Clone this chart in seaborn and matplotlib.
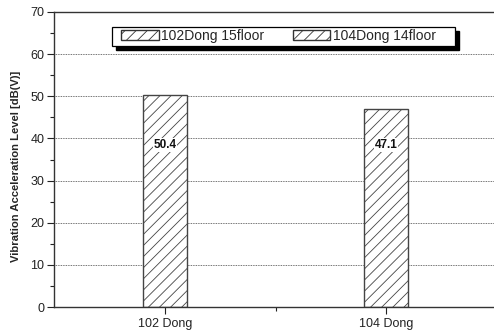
import matplotlib
matplotlib.use("Agg")
import matplotlib.pyplot as plt
from matplotlib.patches import Rectangle
from matplotlib.ticker import MultipleLocator, FixedLocator
import seaborn as sns
import pandas as pd

# Measured vibration acceleration levels per building
buildings = ["102 Dong", "104 Dong"]
series = ["102Dong 15floor", "104Dong 14floor"]
levels = [50.4, 47.1]

df = pd.DataFrame({"building": buildings, "series": series, "level": levels})

sns.set_theme(style="ticks")
plt.rcParams["font.family"] = ["Liberation Sans", "DejaVu Sans"]
plt.rcParams["hatch.color"] = "#8c8c8c"
plt.rcParams["hatch.linewidth"] = 0.6

W, H = 494, 335
fig = plt.figure(figsize=(W / 100, H / 100), dpi=100)
ax = fig.add_axes([54 / W, 1 - 307 / H, 443 / W, 295 / H])

sns.barplot(data=df, x="building", y="level", hue="series", dodge=False,
            width=0.2, palette=["white", "white"], edgecolor="#444444",
            linewidth=1.0, ax=ax, legend=True)

for patch in ax.patches:
    patch.set_hatch("///")

ax.set_xlim(-0.5, 1.5)
ax.set_ylim(0, 70)
ax.yaxis.set_major_locator(MultipleLocator(10))
ax.yaxis.set_minor_locator(MultipleLocator(5))
ax.xaxis.set_minor_locator(FixedLocator([0.5]))

ax.grid(axis="y", which="major", linestyle=(0, (1, 1)), color="#444444", linewidth=0.6)
ax.set_axisbelow(True)

for side in ["left", "bottom", "top"]:
    ax.spines[side].set_color("#333333")
    ax.spines[side].set_linewidth(1.0)
ax.spines["right"].set_visible(False)

ax.tick_params(axis="both", which="major", direction="out", length=5, width=0.8,
               labelsize=9, colors="#222222", pad=2)
ax.tick_params(axis="both", which="minor", direction="out", length=3, width=0.8,
               colors="#222222")
ax.tick_params(axis="x", which="major", pad=3)

ax.set_xlabel("")
ax.set_ylabel("Vibration Acceleration Level [dB(V)]", fontsize=8.1, fontweight="bold")
ax.yaxis.set_label_coords(-0.0745, 0.478)

for i, v in enumerate(levels):
    ax.text(i, 38.4, f"{v:.1f}", ha="center", va="center", fontsize=8.5,
            fontweight="bold", color="#111111",
            bbox=dict(facecolor="white", edgecolor="none", pad=0.5))

# Legend entries without their own frame; a boxed panel with a drop shadow sits behind
leg = ax.legend(loc="upper left", bbox_to_anchor=((121 - 54) / 443, (307 - 29) / 295),
                ncol=2, frameon=False, fontsize=10, handlelength=2.7,
                handleheight=0.8, handletextpad=0.2, columnspacing=2.05,
                borderpad=0.0, borderaxespad=0)
for h in leg.legend_handles:
    h.set_hatch("///")
    h.set_edgecolor("#333333")
leg.set_zorder(6)

box_x0, box_y0, box_x1, box_y1 = 112, 27, 455, 46
shadow = Rectangle(((box_x0 + 4) / W, 1 - (box_y1 + 4) / H), (box_x1 - box_x0) / W,
                   (box_y1 - box_y0) / H, transform=fig.transFigure, clip_on=False,
                   facecolor="black", edgecolor="black", zorder=4)
frame = Rectangle((box_x0 / W, 1 - box_y1 / H), (box_x1 - box_x0) / W,
                  (box_y1 - box_y0) / H, transform=fig.transFigure, clip_on=False,
                  facecolor="white", edgecolor="black", linewidth=0.9, zorder=5)
ax.add_artist(shadow)
ax.add_artist(frame)

fig.savefig("out.png", dpi=100)
